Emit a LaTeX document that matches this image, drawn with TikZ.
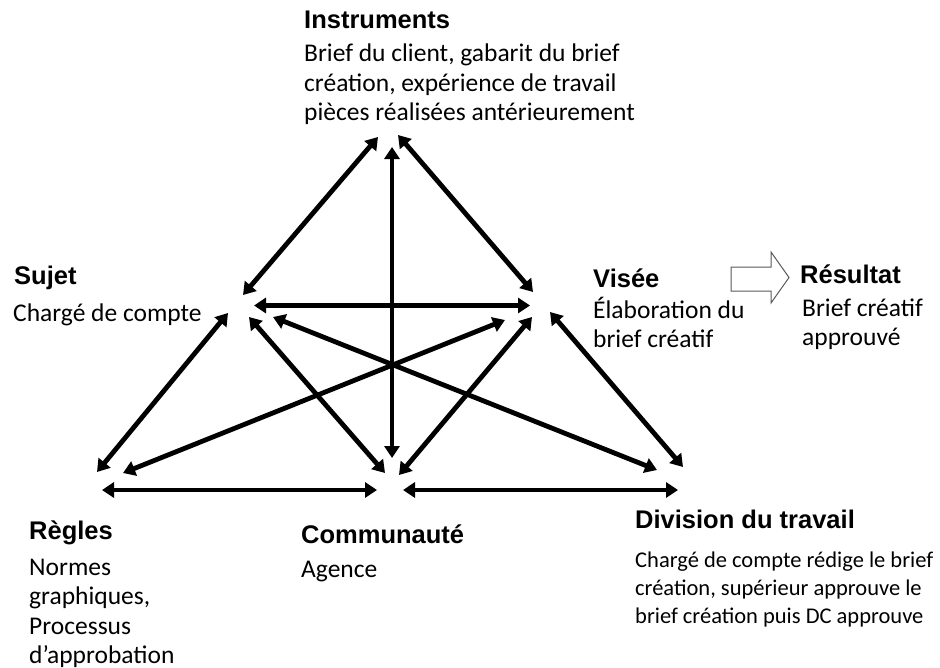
\documentclass[tikz,border=0pt]{standalone}
\usepackage{fontspec}
\setmainfont{Carlito}
\newfontfamily\headfont{Liberation Sans}
\usetikzlibrary{arrows.meta}
% several lines of body text, baseline of the block = baseline of its first line
\newcommand\txtlines[1]{\begin{tabular}[t]{@{}l@{}}#1\end{tabular}}
\begin{document}
\begin{tikzpicture}[x=1bp,y=-1bp,
  link/.style={line width=4.8bp,{Triangle[length=12bp,width=15bp]}-{Triangle[length=12bp,width=15bp]}},
  head/.style={anchor=base west,inner sep=0pt,font=\headfont\bfseries\fontsize{25.5bp}{29bp}\selectfont},
  body/.style={anchor=base west,inner sep=0pt,font=\fontsize{25.5bp}{29.5bp}\selectfont},
  smallbody/.style={anchor=base west,inner sep=0pt,font=\fontsize{22.5bp}{28bp}\selectfont},
  blockarrow/.style={draw=black!65,line width=1bp,fill=white,line join=miter}]
\useasboundingbox (0,0) rectangle (940,668);

% ---- labels ----
\node[head] (instr) at (304,29) {Instruments};
\node[body] (instrtxt) at (304,62) {\txtlines{Brief du client, gabarit du brief\\création, expérience de travail\\pièces réalisées antérieurement}};

\node[head] (sujet) at (14,284) {Sujet};
\node[body] (sujettxt) at (13,321) {Chargé de compte};

\node[head] (visee) at (593,287) {Visée};
\node[body] (viseetxt) at (593,318) {\txtlines{Élaboration du\\brief créatif}};

\node[head] (resultat) at (800,283) {Résultat};
\node[body] (resultattxt) at (802,316) {\txtlines{Brief créatif\\approuvé}};

\node[head] (regles) at (29,539) {Règles};
\node[body] (reglestxt) at (29,575) {\txtlines{Normes\\graphiques,\\Processus\\d’approbation}};

\node[head] (commu) at (301,543) {Communauté};
\node[body] (commutxt) at (301,577) {Agence};

\node[head] (divis) at (635,528) {Division du travail};
\node[smallbody] (divistxt) at (635,567) {\txtlines{Chargé de compte rédige le brief\\création, supérieur approuve le\\brief création puis DC approuve}};

% ---- block arrow towards the result ----
\draw[blockarrow] (731,267) -- (771,267) -- (771,252) -- (789,277.5)
  -- (771,303) -- (771,291) -- (731,291) -- cycle;

% ---- connector ends around each pole ----
% Sujet
\coordinate (si) at (243,295);
\coordinate (sv) at (254,305.5);
\coordinate (sd) at (273,317);
\coordinate (sc) at (249,317);
\coordinate (sr) at (228,313);
% Instruments
\coordinate (is) at (378,137);
\coordinate (ic) at (392,147);
\coordinate (iv) at (398,135);
% Visee
\coordinate (vi) at (533,292);
\coordinate (vs) at (530,305.5);
\coordinate (vr) at (505,320);
\coordinate (vc) at (532,317);
\coordinate (vd) at (550,312);
% Communaute
\coordinate (ci) at (392,458);
\coordinate (cs) at (385,473);
\coordinate (cv) at (399,475);
\coordinate (cr) at (377,490);
\coordinate (cd) at (403,490);
% Regles
\coordinate (rs) at (97,472);
\coordinate (rv) at (123,473);
\coordinate (rc) at (102,490);
% Division du travail
\coordinate (ds) at (657,470);
\coordinate (dv) at (683,467);
\coordinate (dc) at (678,490);

% ---- double-headed links ----
\draw[link] (si) -- (is);
\draw[link] (ic) -- (ci);
\draw[link] (iv) -- (vi);
\draw[link] (sv) -- (vs);
\draw[link] (sd) -- (ds);
\draw[link] (rv) -- (vr);
\draw[link] (sc) -- (cs);
\draw[link] (vc) -- (cv);
\draw[link] (sr) -- (rs);
\draw[link] (vd) -- (dv);
\draw[link] (rc) -- (cr);
\draw[link] (cd) -- (dc);
\end{tikzpicture}
\end{document}
